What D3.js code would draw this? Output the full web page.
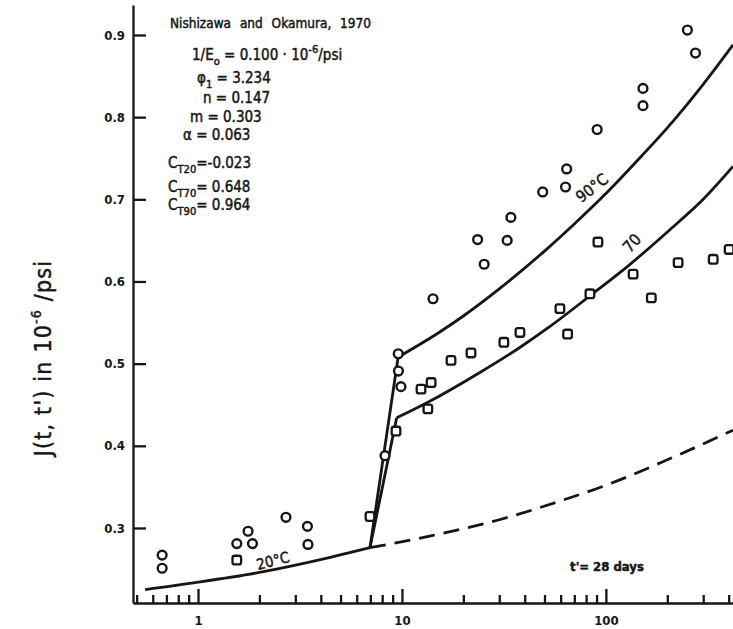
<!DOCTYPE html>
<html>
<head>
<meta charset="utf-8">
<script src="https://cdn.jsdelivr.net/npm/d3@7"></script>
<style>
	body { margin: 0; background: #fff; }
	svg text { font-family: "DejaVu Sans Condensed", "DejaVu Sans", sans-serif; fill: #161616; white-space: pre; }
	svg text.heavy { stroke: #161616; stroke-width: 0.45px; }
</style>
</head>
<body>
<svg id="chart" width="733" height="629"></svg>
<script>
// Values: [t - t' in days, J in 10^-6/psi]
var circles90 = [[8.26, 0.388], [9.59, 0.512], [9.61, 0.491], [9.89, 0.472], [14.2, 0.579],
	[23.5, 0.651], [25.3, 0.621], [32.8, 0.650], [34.2, 0.678], [49, 0.709], [63.4, 0.715],
	[64.2, 0.737], [90.6, 0.785], [152, 0.814], [152, 0.835], [251, 0.906], [275, 0.878]];
var squares70 = [[9.35, 0.418], [12.4, 0.469], [13.4, 0.445], [13.9, 0.477], [17.4, 0.504],
	[21.8, 0.513], [31.6, 0.526], [37.9, 0.538], [59.5, 0.567], [64.9, 0.536], [83.5, 0.585],
	[91.4, 0.648], [136, 0.609], [167, 0.580], [226, 0.623], [336, 0.627], [402, 0.639]];
var circles20 = [[0.667, 0.267], [0.667, 0.251], [1.55, 0.281], [1.76, 0.296], [1.85, 0.281],
	[2.70, 0.313], [3.44, 0.302], [3.46, 0.280]];
var squares20 = [[1.55, 0.261], [6.97, 0.314]];

var curve20 = [[0.55, 0.225], [1, 0.234], [2, 0.246], [4.4, 0.264], [6.97, 0.276]];
var curve90 = [[9.58, 0.508], [15, 0.537], [20, 0.558], [30, 0.591], [50, 0.637], [70, 0.670],
	[100, 0.707], [150, 0.753], [200, 0.787], [300, 0.840], [420, 0.888]];
var curve70 = [[9.42, 0.434], [13.4, 0.453], [24, 0.489], [38, 0.520], [53, 0.545], [84, 0.583],
	[130, 0.620], [206, 0.663], [300, 0.700], [420, 0.740]];
var dashed20 = [[6.97, 0.276], [14.2, 0.291], [30, 0.310], [60, 0.333], [100, 0.352],
	[200, 0.383], [420, 0.419]];

var yTicks = [0.3, 0.4, 0.5, 0.6, 0.7, 0.8, 0.9];
var xMajorTicks = [1, 10, 100];
var xMinorTicks = [0.5, 0.6, 0.7, 0.8, 0.9, 2, 3, 4, 5, 6, 7, 8, 9,
	20, 30, 40, 50, 60, 70, 80, 90, 200, 300, 400];

var paramLines = [
	[['1/E', ''], ['o', 'sub'], [' = 0.100 · 10', ''], ['-6', 'sup'], ['/psi', '']],
	[['φ', ''], ['1', 'sub'], [' = 3.234', '']],
	[['n = 0.147', '']],
	[['m = 0.303', '']],
	[['α = 0.063', '']],
	[['C', ''], ['T20', 'sub'], ['=-0.023', '']],
	[['C', ''], ['T70', 'sub'], ['= 0.648', '']],
	[['C', ''], ['T90', 'sub'], ['= 0.964', '']]
];

var ink = '#161616';
var svg = d3.select('#chart');
var x = d3.scaleLog().domain([0.48, 420]).range([133, 733]);
var y = d3.scaleLinear().domain([0.2087, 0.9365]).range([603, 5]);

function richText(parts, px, py, size) {
	var t = svg.append('text').attr('class', 'heavy').attr('x', px).attr('y', py).attr('font-size', size);
	var shift = 0;
	parts.forEach(function(p) {
		var target = p[1] === 'sub' ? size * 0.3 : p[1] === 'sup' ? -size * 0.45 : 0;
		t.append('tspan')
			.attr('dy', target - shift)
			.attr('font-size', p[1] ? size * 0.74 : size)
			.text(p[0]);
		shift = target;
	});
	return t;
}

// Curves
var straight = d3.line().x(function(d) { return x(d[0]); }).y(function(d) { return y(d[1]); });
var smooth = d3.line().curve(d3.curveMonotoneX).x(function(d) { return x(d[0]); }).y(function(d) { return y(d[1]); });
var kink = curve20[curve20.length - 1];

function drawCurve(path, gen, dash) {
	svg.append('path')
		.attr('d', gen(path))
		.attr('fill', 'none')
		.attr('stroke', ink)
		.attr('stroke-width', 2.8)
		.attr('stroke-linejoin', 'round')
		.attr('stroke-dasharray', dash || null);
}
drawCurve(curve20, smooth);
drawCurve([kink, curve90[0]], straight);
drawCurve([kink, curve70[0]], straight);
drawCurve(curve90, smooth);
drawCurve(curve70, smooth);
drawCurve(dashed20, smooth, '16,9');

// Markers
circles90.concat(circles20).forEach(function(d) {
	svg.append('circle')
		.attr('cx', x(d[0]))
		.attr('cy', y(d[1]))
		.attr('r', 4.4)
		.attr('fill', '#fff')
		.attr('stroke', ink)
		.attr('stroke-width', 2.4);
});
squares70.concat(squares20).forEach(function(d) {
	svg.append('rect')
		.attr('x', x(d[0]) - 4.3)
		.attr('y', y(d[1]) - 4.3)
		.attr('width', 8.6)
		.attr('height', 8.6)
		.attr('rx', 2.2)
		.attr('fill', '#fff')
		.attr('stroke', ink)
		.attr('stroke-width', 2.3);
});

// Axes, ticks pointing inwards
svg.append('g')
	.attr('transform', 'translate(133,0)')
	.call(d3.axisLeft(y).tickValues(yTicks).tickFormat(d3.format('.1f'))
		.tickSizeInner(-13).tickSizeOuter(0).tickPadding(8));
svg.append('g')
	.attr('transform', 'translate(0,603)')
	.call(d3.axisBottom(x).tickValues(xMinorTicks).tickFormat('')
		.tickSizeInner(-8).tickSizeOuter(0))
	.select('.domain').remove();
svg.append('g')
	.attr('transform', 'translate(0,603)')
	.call(d3.axisBottom(x).tickValues(xMajorTicks).tickFormat(d3.format('d'))
		.tickSizeInner(-14).tickSizeOuter(0).tickPadding(13));
svg.selectAll('.tick line, .domain').attr('stroke', ink).attr('stroke-width', 2.3);
svg.selectAll('.tick text')
	.attr('font-family', '"DejaVu Sans Condensed", sans-serif')
	.attr('font-size', 13)
	.attr('font-weight', 'bold')
	.attr('fill', ink);

// Axis title
var yTitle = svg.append('text')
	.attr('class', 'heavy')
	.attr('transform', 'translate(51,358) rotate(-90)')
	.attr('text-anchor', 'middle')
	.attr('font-family', '"DejaVu Sans", sans-serif')
	.attr('font-size', 23)
	.attr('letter-spacing', 1.2);
yTitle.append('tspan').text("J(t, t') in 10");
yTitle.append('tspan').attr('dy', -10).attr('font-size', 14).text('-6');
yTitle.append('tspan').attr('dy', 10).text(' /psi');

// Parameter block
svg.append('text')
	.attr('class', 'heavy')
	.attr('x', 170)
	.attr('y', 28)
	.attr('font-size', 13.5)
	.attr('word-spacing', 5)
	.text('Nishizawa and Okamura, 1970');
var rowX = [192, 197, 203, 190, 183, 168, 168, 168];
var rowY = [60, 83, 103, 122, 140, 168, 192, 210];
paramLines.forEach(function(parts, i) {
	richText(parts, rowX[i], rowY[i], 15);
});

// Curve labels
function label(txt, cx, cy, angle, size, weight) {
	svg.append('text')
		.attr('class', 'heavy')
		.attr('transform', 'translate(' + cx + ',' + cy + ') rotate(' + angle + ')')
		.attr('text-anchor', 'middle')
		.attr('dominant-baseline', 'central')
		.attr('font-size', size)
		.attr('font-weight', weight || null)
		.text(txt);
}
label('90°C', 592, 188, -38, 16);
label('70', 632, 243, -48, 16);
label('20°C', 273, 561, -14, 15);
label("t'= 28 days", 607, 566, 0, 13, 'bold');
</script>
</body>
</html>
